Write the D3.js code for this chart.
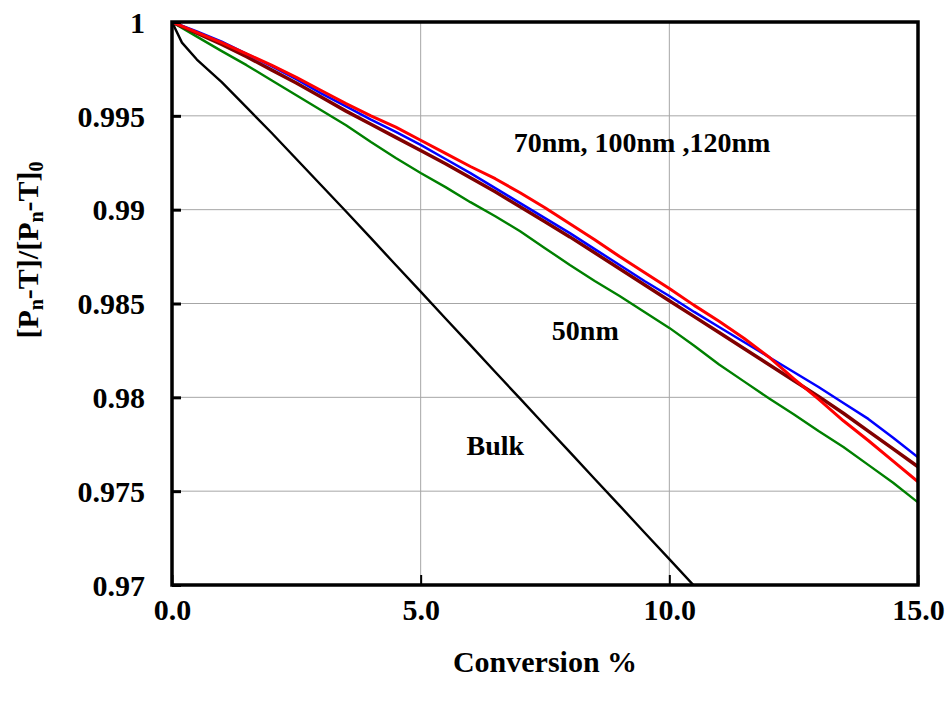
<!DOCTYPE html>
<html><head><meta charset="utf-8">
<script src="https://cdn.jsdelivr.net/npm/d3@7"></script>
<style>
body{margin:0;background:#fff;}
svg{display:block;}
text{font-family:"Liberation Serif","Times New Roman",serif;font-weight:bold;fill:#000;}
</style></head>
<body>
<svg id="chart" width="947" height="706"></svg>
<script>
const xs = [0,0.5,1,1.5,2,2.5,3,3.5,4,4.5,5,5.5,6,6.5,7,7.5,8,8.5,9,9.5,10,10.5,11,11.5,12,12.5,13,13.5,14,14.5,15];
const bulkX = [0,0.2,0.5,1,1.5,2,2.5,3,3.5,4,4.5,5,5.5,6,6.5,7,7.5,8,8.5,9,9.5,10,10.5];
const bulk = [1,0.99890,0.99800,0.99680,0.99545,0.99410,0.99270,0.99130,0.98990,0.98848,0.98705,0.98563,0.98420,0.98278,0.98135,0.97993,0.97850,0.97708,0.97565,0.97423,0.97280,0.97138,0.96995];
const nm50 = [1,0.99922,0.99845,0.99770,0.99690,0.99610,0.99530,0.99450,0.99360,0.99275,0.99195,0.99120,0.99040,0.98965,0.98885,0.98795,0.98705,0.98620,0.98540,0.98455,0.98370,0.98275,0.98175,0.98085,0.97995,0.97910,0.97820,0.97735,0.97640,0.97545,0.97440];
const brown = [1,0.99940,0.99880,0.99815,0.99745,0.99675,0.99600,0.99525,0.99455,0.99385,0.99315,0.99245,0.99170,0.99095,0.99015,0.98935,0.98855,0.98770,0.98685,0.98600,0.98515,0.98430,0.98345,0.98260,0.98175,0.98090,0.98005,0.97915,0.97820,0.97725,0.97630];
const blue = [1,0.99950,0.99895,0.99830,0.99765,0.99695,0.99620,0.99550,0.99480,0.99415,0.99345,0.99270,0.99195,0.99115,0.99035,0.98955,0.98875,0.98790,0.98705,0.98620,0.98540,0.98455,0.98375,0.98295,0.98215,0.98135,0.98055,0.97970,0.97885,0.97785,0.97680];
const red = [1,0.99945,0.99890,0.99830,0.99770,0.99705,0.99635,0.99565,0.99500,0.99440,0.99370,0.99300,0.99230,0.99165,0.99090,0.99010,0.98925,0.98840,0.98750,0.98665,0.98580,0.98490,0.98405,0.98315,0.98215,0.98100,0.97990,0.97875,0.97770,0.97660,0.97550];
const yTicks = [1,0.995,0.99,0.985,0.98,0.975,0.97];
const yTickLabels = ["1","0.995","0.99","0.985","0.98","0.975","0.97"];
const xTicks = [0,5,10,15];
const xTickLabels = ["0.0","5.0","10.0","15.0"];
const annotations = [
  {text:"70nm, 100nm ,120nm", x:9.45, y:0.99307},
  {text:"50nm", x:8.31, y:0.98306},
  {text:"Bulk", x:6.5, y:0.97693}
];

const L=172, R=918, T=22, B=585;
const FONT = "Liberation Serif";
const svg = d3.select("#chart");
const x = d3.scaleLinear().domain([0,15]).range([L,R]);
const y = d3.scaleLinear().domain([0.97,1]).range([B,T]);

// gridlines
svg.append("g").selectAll("line").data(yTicks.slice(1,-1)).join("line")
  .attr("x1",L).attr("x2",R).attr("y1",d=>y(d)).attr("y2",d=>y(d))
  .attr("stroke","#a6a6a6").attr("stroke-width",1);
svg.append("g").selectAll("line").data(xTicks.slice(1,-1)).join("line")
  .attr("y1",T).attr("y2",B).attr("x1",d=>x(d)).attr("x2",d=>x(d))
  .attr("stroke","#a6a6a6").attr("stroke-width",1);

// clip
svg.append("clipPath").attr("id","clip").append("rect")
  .attr("x",L).attr("y",T).attr("width",R-L).attr("height",B-T);

const line = d3.line().x(d=>x(d[0])).y(d=>y(d[1]));
const series = [
  {xv:bulkX, v:bulk, c:"#000000", w:2.4},
  {xv:xs, v:nm50, c:"#008000", w:2.4},
  {xv:xs, v:brown, c:"#800000", w:3.5},
  {xv:xs, v:blue, c:"#0000ff", w:2.5},
  {xv:xs, v:red, c:"#ff0000", w:3}
];
const gl = svg.append("g").attr("clip-path","url(#clip)");
series.forEach(s=>{
  gl.append("path").datum(s.xv.map((xx,i)=>[xx,s.v[i]]))
    .attr("d",line).attr("fill","none").attr("stroke",s.c)
    .attr("stroke-width",s.w).attr("stroke-linejoin","round");
});

// axes with inward ticks
const yAxis = d3.axisLeft(y).tickValues(yTicks).tickSize(-9).tickFormat((d,i)=>yTickLabels[i]).tickPadding(27);
const gy = svg.append("g").attr("transform",`translate(${L},0)`).call(yAxis)
  .attr("font-family",FONT).attr("font-size",30).attr("font-weight","bold");
gy.select(".domain").remove();
gy.selectAll(".tick line").attr("stroke","#000").attr("stroke-width",3);
gy.selectAll(".tick text").attr("fill","#000").attr("dy","0.34em");

const xAxis = d3.axisBottom(x).tickValues(xTicks).tickSize(-10).tickFormat((d,i)=>xTickLabels[i]).tickPadding(14);
const gx = svg.append("g").attr("transform",`translate(0,${B})`).call(xAxis)
  .attr("font-family",FONT).attr("font-size",30).attr("font-weight","bold");
gx.select(".domain").remove();
gx.selectAll(".tick line").attr("stroke","#000").attr("stroke-width",2);
gx.selectAll(".tick text").attr("fill","#000");

// frame
svg.append("rect").attr("x",L).attr("y",T).attr("width",R-L).attr("height",B-T)
  .attr("fill","none").attr("stroke","#000").attr("stroke-width",3.5);

// annotations
svg.append("g").selectAll("text").data(annotations).join("text")
  .attr("x",d=>x(d.x)).attr("y",d=>y(d.y)).attr("text-anchor","middle")
  .style("font-size","28px").text(d=>d.text);

// axis titles
svg.append("text").attr("x",(L+R)/2).attr("y",672).attr("text-anchor","middle")
  .style("font-size","30px").text("Conversion %");

const yt = svg.append("text").attr("transform","translate(38,250) rotate(-90)")
  .attr("text-anchor","middle").style("font-size","30px");
yt.append("tspan").text("[P");
yt.append("tspan").text("n").style("font-size","20px").attr("dy","5");
yt.append("tspan").text("-T]/[P").attr("dy","-5");
yt.append("tspan").text("n").style("font-size","20px").attr("dy","5");
yt.append("tspan").text("-T]").attr("dy","-5");
yt.append("tspan").text("0").style("font-size","20px").attr("dy","5");
</script>
</body></html>
